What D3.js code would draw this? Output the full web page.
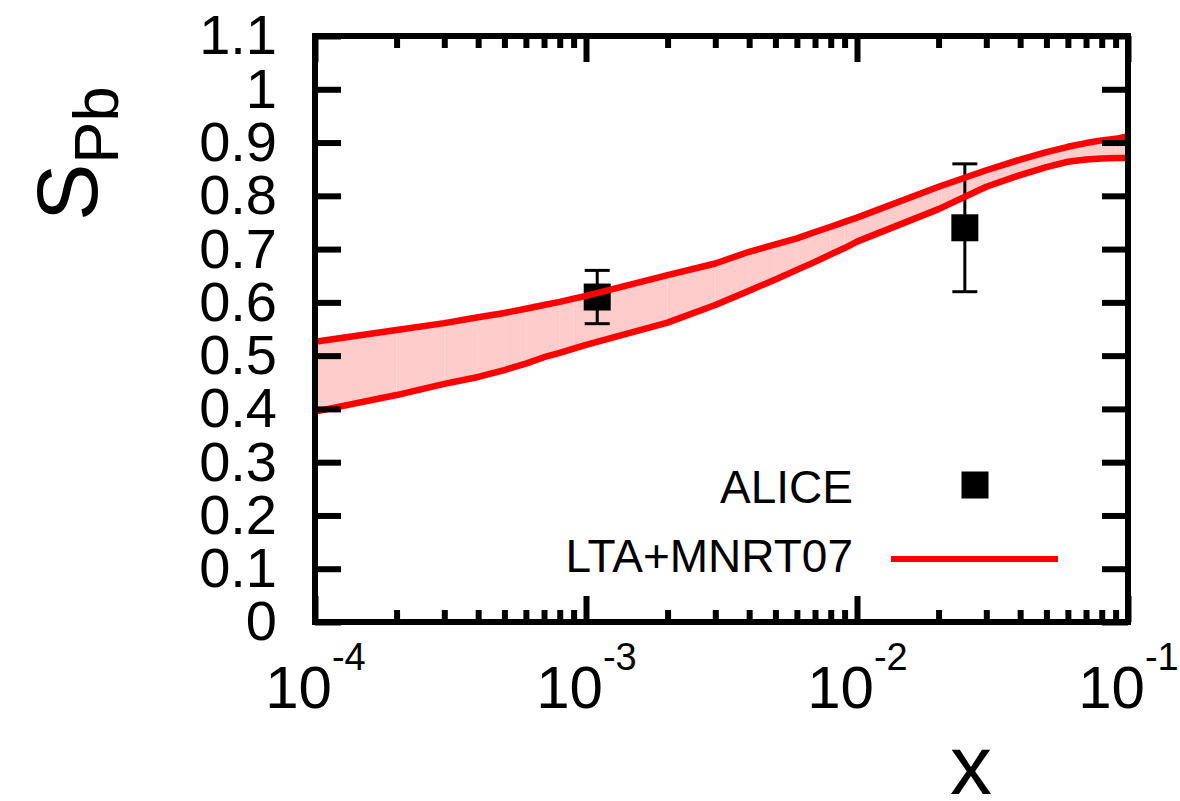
<!DOCTYPE html>
<html>
<head>
<meta charset="utf-8">
<script src="https://cdn.jsdelivr.net/npm/d3@7"></script>
<style>
  html, body { margin: 0; padding: 0; background: #fff; }
  svg { display: block; font-family: "Liberation Sans", Arial, Helvetica, sans-serif; }
</style>
</head>
<body>
<div id="chart"></div>
<script>
// S_Pb vs x : LTA+MNRT07 band and ALICE points

// band (upper / lower edge)
const bandX = [1e-4, 2e-4, 3e-4, 4e-4, 5e-4, 6e-4, 7e-4, 8e-4, 9e-4,
               1e-3, 2e-3, 3e-3, 4e-3, 5e-3, 6e-3, 7e-3, 8e-3, 9e-3,
               1e-2, 2e-2, 3e-2, 4e-2, 5e-2, 6e-2, 7e-2, 8e-2, 9e-2, 1e-1];
const bandUpper = [0.526, 0.548, 0.561, 0.572, 0.580, 0.588, 0.595, 0.601, 0.607,
                   0.612, 0.651, 0.673, 0.695, 0.709, 0.720, 0.732, 0.742, 0.751,
                   0.759, 0.817, 0.848, 0.868, 0.882, 0.892, 0.899, 0.904, 0.907, 0.912];
const bandLower = [0.395, 0.426, 0.447, 0.460, 0.473, 0.485, 0.497, 0.505, 0.513,
                   0.520, 0.562, 0.595, 0.622, 0.643, 0.661, 0.676, 0.690, 0.702,
                   0.714, 0.775, 0.817, 0.839, 0.854, 0.864, 0.868, 0.870, 0.871, 0.871];

// ALICE data
const aliceX = [1.1e-3, 2.5e-2];
const aliceY = [0.61, 0.74];
const aliceErr = [0.05, 0.12];

const xMajor = [1e-4, 1e-3, 1e-2, 1e-1];
const xExponents = ["-4", "-3", "-2", "-1"];
const yTicks = [0, 0.1, 0.2, 0.3, 0.4, 0.5, 0.6, 0.7, 0.8, 0.9, 1, 1.1];

(function () {
  const W = 1180, H = 801;
  const pLeft = 315, pRight = 1128, pTop = 36, pBottom = 622;

  const svg = d3.select("#chart").append("svg")
    .attr("width", W)
    .attr("height", H);

  const x = d3.scaleLog().domain([1e-4, 1e-1]).range([pLeft, pRight]);
  const y = d3.scaleLinear().domain([0, 1.1]).range([pBottom, pTop]);

  const rows = bandX.map((v, i) => ({ x: v, hi: bandUpper[i], lo: bandLower[i] }));

  // band fill, one piece per interval (gives the faint seams of the original)
  const area = d3.area()
    .x(d => x(d.x))
    .y0(d => y(d.lo))
    .y1(d => y(d.hi));

  const fillG = svg.append("g");
  for (let i = 0; i < rows.length - 1; i++) {
    fillG.append("path")
      .attr("d", area([rows[i], rows[i + 1]]))
      .attr("fill", "#ffcccc");
  }

  // ALICE points with error bars
  const pts = aliceX.map((v, i) => ({ x: v, y: aliceY[i], e: aliceErr[i] }));
  const ptG = svg.append("g");
  pts.forEach(p => {
    const cx = x(p.x), cy = y(p.y);
    const yT = y(p.y + p.e), yB = y(p.y - p.e);
    ptG.append("line")
      .attr("x1", cx).attr("x2", cx).attr("y1", yT).attr("y2", yB)
      .attr("stroke", "#000").attr("stroke-width", 3);
    [yT, yB].forEach(yy => {
      ptG.append("line")
        .attr("x1", cx - 12.5).attr("x2", cx + 12.5).attr("y1", yy).attr("y2", yy)
        .attr("stroke", "#000").attr("stroke-width", 3);
    });
    ptG.append("rect")
      .attr("x", cx - 13.5).attr("y", cy - 13.5)
      .attr("width", 27).attr("height", 27)
      .attr("fill", "#000");
  });

  // band edges
  const lineHi = d3.line().x(d => x(d.x)).y(d => y(d.hi));
  const lineLo = d3.line().x(d => x(d.x)).y(d => y(d.lo));
  [lineHi, lineLo].forEach(fn => {
    svg.append("path")
      .attr("d", fn(rows))
      .attr("fill", "none")
      .attr("stroke", "#ff0000")
      .attr("stroke-width", 6.5)
      .attr("stroke-linejoin", "round");
  });

  // axes
  const minor = x.ticks().filter(v => !xMajor.some(m => Math.abs(m - v) / m < 1e-6));

  function styleAxis(g) {
    g.select(".domain").remove();
    g.selectAll(".tick line").attr("stroke", "#000").attr("stroke-width", 6);
  }

  svg.append("g")
    .attr("transform", `translate(0,${pBottom})`)
    .call(d3.axisBottom(x).tickValues(minor).tickSize(-12).tickFormat(""))
    .call(styleAxis);
  svg.append("g")
    .attr("transform", `translate(0,${pTop})`)
    .call(d3.axisTop(x).tickValues(minor).tickSize(-12).tickFormat(""))
    .call(styleAxis);
  svg.append("g")
    .attr("transform", `translate(0,${pTop})`)
    .call(d3.axisTop(x).tickValues(xMajor).tickSize(-26).tickFormat(""))
    .call(styleAxis);

  const xAxis = svg.append("g")
    .attr("transform", `translate(0,${pBottom})`)
    .call(d3.axisBottom(x).tickValues(xMajor).tickSize(-26).tickFormat(""))
    .call(styleAxis);

  xAxis.selectAll(".tick text").each(function (d, i) {
    const t = d3.select(this)
      .attr("y", 86)
      .attr("dy", null)
      .attr("fill", "#000")
      .attr("font-size", 60)
      .attr("text-anchor", "middle")
      .text(null);
    t.append("tspan").text("10");
    t.append("tspan").attr("dy", -38).attr("font-size", 38).text(xExponents[i]);
  });

  svg.append("g")
    .attr("transform", `translate(${pLeft},0)`)
    .call(d3.axisLeft(y).tickValues(yTicks).tickSize(-26).tickPadding(38).tickFormat(d3.format(".1~f")))
    .call(styleAxis)
    .call(g => g.selectAll(".tick text")
      .attr("fill", "#000")
      .attr("font-size", 56)
      .attr("font-family", "\"Liberation Sans\", Arial, sans-serif"));

  svg.append("g")
    .attr("transform", `translate(${pRight},0)`)
    .call(d3.axisRight(y).tickValues(yTicks).tickSize(-26).tickFormat(""))
    .call(styleAxis);

  // frame
  svg.append("rect")
    .attr("x", pLeft).attr("y", pTop)
    .attr("width", pRight - pLeft).attr("height", pBottom - pTop)
    .attr("fill", "none")
    .attr("stroke", "#000")
    .attr("stroke-width", 6);

  // axis titles
  svg.append("text")
    .attr("x", 971).attr("y", 794)
    .attr("text-anchor", "middle")
    .attr("font-size", 84)
    .text("x");

  const yl = svg.append("text")
    .attr("transform", "translate(97,221) rotate(-90)")
    .attr("font-size", 86);
  yl.append("tspan").text("S");
  yl.append("tspan").attr("dy", 21).attr("font-size", 63).text("Pb");

  // legend
  const leg = svg.append("g").attr("font-size", 46);
  leg.append("text").attr("x", 853).attr("y", 503).attr("text-anchor", "end").text("ALICE");
  leg.append("rect").attr("x", 961.5).attr("y", 471.5).attr("width", 27).attr("height", 27).attr("fill", "#000");
  leg.append("text").attr("x", 853).attr("y", 572).attr("text-anchor", "end").text("LTA+MNRT07");
  leg.append("line")
    .attr("x1", 891).attr("x2", 1058).attr("y1", 559).attr("y2", 559)
    .attr("stroke", "#ff0000").attr("stroke-width", 6);
})();
</script>
</body>
</html>
